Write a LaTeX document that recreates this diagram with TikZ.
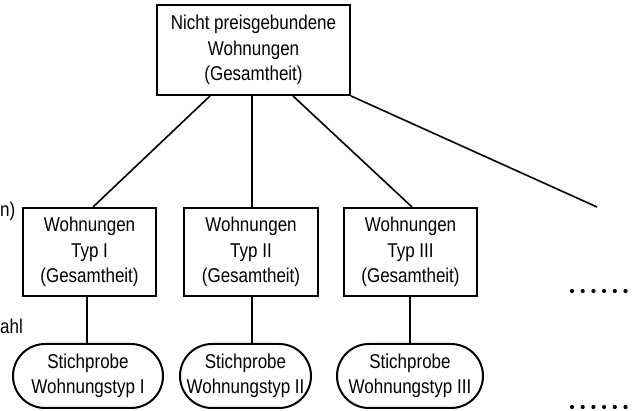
\documentclass[tikz,border=0pt]{standalone}
\usepackage{fontspec}
\setmainfont[FakeStretch=0.85]{Liberation Sans}
\begin{document}
\begin{tikzpicture}[x=1pt,y=-1pt,
  txt/.style={font=\fontsize{20}{25.5}\selectfont},
  boxnode/.style={draw, line width=2pt, align=center, inner sep=0pt, txt},
  ovalnode/.style={draw, line width=2pt, align=center, inner sep=0pt, rounded corners=32pt, minimum height=64pt, txt},
  conn/.style={line width=1.6pt}]
\useasboundingbox (0,0) rectangle (635,411);
\node[boxnode, minimum width=193pt, minimum height=90pt] (top) at (253.5,50) {Nicht preisgebundene\\Wohnungen\\(Gesamtheit)};
\node[boxnode, minimum width=133pt, minimum height=88pt] (b1) at (89.5,252) {Wohnungen\\Typ I\\(Gesamtheit)};
\node[boxnode, minimum width=134pt, minimum height=88pt] (b2) at (251,252) {Wohnungen\\Typ II\\(Gesamtheit)};
\node[boxnode, minimum width=133pt, minimum height=88pt] (b3) at (410.5,252) {Wohnungen\\Typ III\\(Gesamtheit)};
\node[ovalnode, minimum width=150pt] (o1) at (88,376) {Stichprobe\\Wohnungstyp I};
\node[ovalnode, minimum width=131pt] (o2) at (245.5,376) {Stichprobe\\Wohnungstyp II};
\node[ovalnode, minimum width=146pt] (o3) at (410,376) {Stichprobe\\Wohnungstyp III};
\coordinate (far) at (597,207);
\draw[conn] ([xshift=-43.5pt]top.south) -- ([xshift=3.5pt]b1.north);
\draw[conn] ([xshift=-1.5pt]top.south) -- ([xshift=1pt]b2.north);
\draw[conn] ([xshift=39.5pt]top.south) -- ([xshift=1.5pt]b3.north);
\draw[conn] (top.south east) -- (far);
\draw[conn] ([xshift=-2.5pt]b1.south) -- ([xshift=-2.5pt]b1.south |- o1.north);
\draw[conn] ([xshift=1pt]b2.south) -- ([xshift=1pt]b2.south |- o2.north);
\draw[conn] ([xshift=-0.5pt]b3.south) -- ([xshift=-0.5pt]b3.south |- o3.north);
\node[txt, anchor=west, inner sep=0pt] (ln) at (0,211) {n)};
\node[txt, anchor=west, inner sep=0pt] (la) at (0,326) {ahl};
\foreach \x in {572,582.7,593.4,604.1,614.8,625.5} {
  \fill (\x,291) circle (2.1pt);
  \fill (\x,407) circle (2.1pt);
}
\end{tikzpicture}
\end{document}
